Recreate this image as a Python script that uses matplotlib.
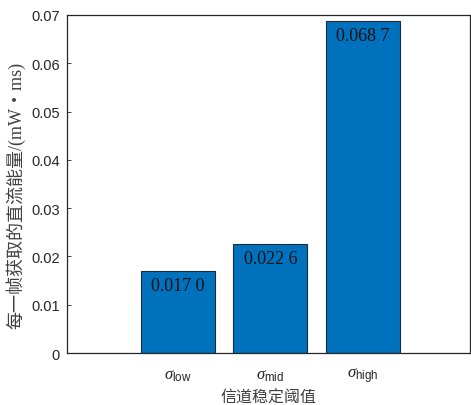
import matplotlib
matplotlib.use("Agg")
import matplotlib.pyplot as plt

categories = [r"$\sigma_{\mathrm{low}}$", r"$\sigma_{\mathrm{mid}}$", r"$\sigma_{\mathrm{high}}$"]
values = [0.0170, 0.0226, 0.0687]
value_labels = ["0.017 0", "0.022 6", "0.068 7"]
yticks = [0, 0.01, 0.02, 0.03, 0.04, 0.05, 0.06, 0.07]
ytick_labels = ["0", "0.01", "0.02", "0.03", "0.04", "0.05", "0.06", "0.07"]

plt.rcParams['mathtext.fontset'] = 'custom'
plt.rcParams['mathtext.it'] = 'Liberation Serif:italic'
plt.rcParams['mathtext.rm'] = 'Liberation Sans'

fig = plt.figure(figsize=(4.71, 4.06), dpi=100)
W, H = 471, 406
ax = fig.add_axes([67 / W, 1 - 354 / H, (470 - 67) / W, (354 - 16) / H])

x = [1, 2, 3]
bars = ax.bar(x, values, width=0.8, color="#0072BD", edgecolor="#1f2a36", linewidth=0.8, zorder=2)
for xi, v, lab in zip(x, values, value_labels):
    ax.text(xi, v - 0.0012, lab, ha="center", va="top", fontsize=13,
            family="Liberation Serif", color="#111111", zorder=3)

ax.set_xlim(-0.2, 4.16)
ax.set_ylim(0, 0.07)
ax.set_xticks(x)
ax.set_xticklabels(categories, fontsize=12, color="#262626")
ax.set_yticks(yticks)
ax.set_yticklabels(ytick_labels, family="Liberation Sans", fontsize=10.5, color="#262626")
ax.tick_params(direction="in", length=3, width=0.6, colors="#262626", pad=5)
ax.tick_params(axis="x", pad=9)
for s in ax.spines.values():
    s.set_linewidth(0.9)
    s.set_color("#262626")

ax.set_ylabel("每一帧获取的直流能量/(mW・ms)", family=["Liberation Serif", "Noto Sans CJK SC"],
              fontsize=13, color="#404040")
ax.yaxis.set_label_coords(-0.104, 0.47)
ax.set_xlabel("信道稳定阈值", family=["Noto Sans CJK SC", "DejaVu Sans"],
              fontsize=11.5, color="#404040", labelpad=3)

fig.savefig("out.png", dpi=100)
